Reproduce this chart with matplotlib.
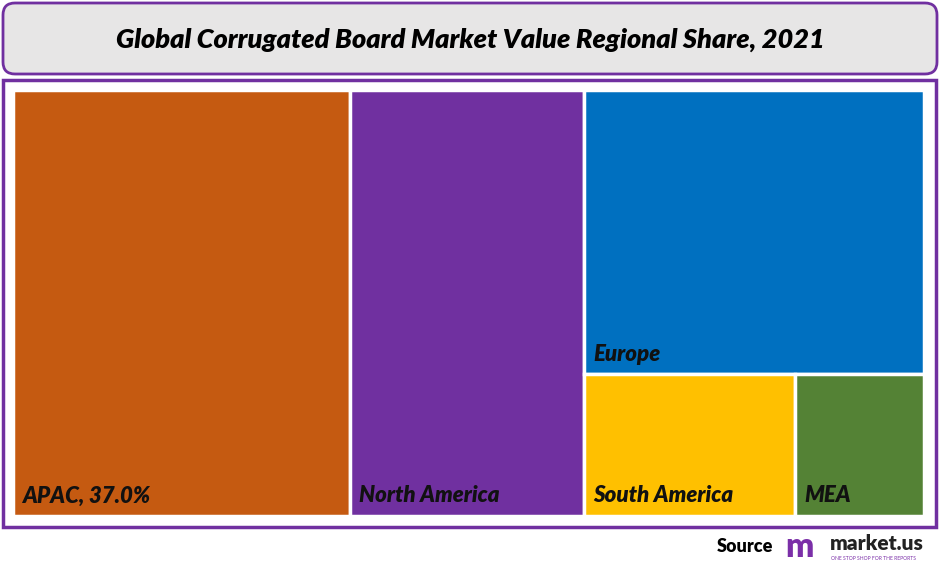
import matplotlib
matplotlib.use("Agg")
import matplotlib.pyplot as plt
from matplotlib.patches import Rectangle, FancyBboxPatch

regions = ["APAC", "North America", "Europe", "South America", "MEA"]
shares = [37.0, 25.7, 24.9, 7.7, 4.7]
labels = ["APAC, 37.0%", "North America", "Europe", "South America", "MEA"]
colors = ["#C55A11", "#7030A0", "#0070C0", "#FFC000", "#548235"]
title = "Global Corrugated Board Market Value Regional Share, 2021"

fig = plt.figure(figsize=(9.4, 5.66), dpi=100)
ax = fig.add_axes([0, 0, 1, 1])
ax.set_xlim(0, 940)
ax.set_ylim(566, 0)
ax.axis("off")

fam = ["Lato", "DejaVu Sans"]
ax.add_patch(FancyBboxPatch((3, 3), 934, 71, boxstyle="round,pad=0,rounding_size=12",
                            fc="#E7E6E6", ec="#7030A0", lw=2))
ax.text(470, 40, title, ha="center", va="center", fontsize=19.5, fontweight="heavy",
        style="italic", family=fam, color="black")
ax.add_patch(Rectangle((3, 80), 933, 447, fc="white", ec="#7030A0", lw=2.5))

x0, x1, y0, y1 = 13, 924, 90, 516
W, H = x1 - x0, y1 - y0
tot = sum(shares)
rects = []
wa = shares[0] / tot * W
rects.append((x0, y0, wa, H))
wn = shares[1] / tot * W
rects.append((x0 + wa, y0, wn, H))
xr = x0 + wa + wn
wr = x1 - xr
rest = sum(shares[2:])
he = shares[2] / rest * H
rects.append((xr, y0, wr, he))
bot = shares[3] + shares[4]
ws = shares[3] / bot * wr
rects.append((xr, y0 + he, ws, H - he))
rects.append((xr + ws, y0 + he, wr - ws, H - he))

for (x, y, w, h), c, lab in zip(rects, colors, labels):
    ax.add_patch(Rectangle((x, y), w, h, fc=c, ec="white", lw=2.5))
    ax.text(x + 9, y + h - 20, lab, ha="left", va="center", fontsize=16,
            fontweight="heavy", style="italic", family=fam, color="#111111")

ax.text(773, 547, "Source", ha="right", va="center", fontsize=13, fontweight="heavy",
        family=fam, color="black")
ax.text(785, 547, "m", ha="left", va="center", fontsize=24, fontweight="heavy",
        family=fam, color="#7B2FA8")
ax.text(830, 543, "market.us", ha="left", va="center", fontsize=15, fontweight="heavy",
        family=fam, color="#222222")
ax.text(831, 559, "ONE STOP SHOP FOR THE REPORTS", ha="left", va="center", fontsize=3.6,
        family=fam, color="#7B2FA8")

fig.savefig("out.png", dpi=100)
